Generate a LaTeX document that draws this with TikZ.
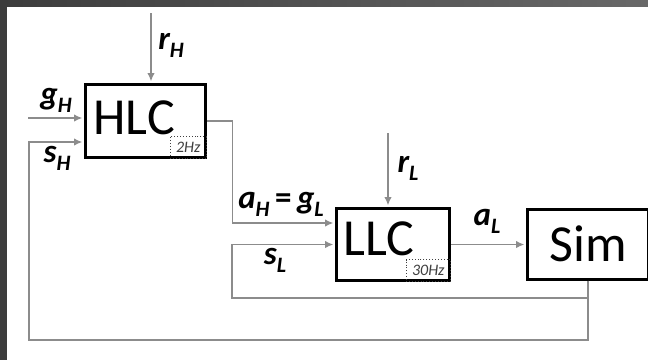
\documentclass[tikz,border=0pt]{standalone}
\usepackage{fontspec}
\setmainfont{Carlito}
\usetikzlibrary{calc,positioning,arrows.meta}
\definecolor{WireGray}{HTML}{8C8C8C}
\definecolor{FrameDark}{HTML}{3C3C3C}
\definecolor{FrameMid}{HTML}{686868}
\definecolor{RateGray}{HTML}{404040}
\newcommand{\sig}[2]{\textbf{\textit{#1\raisebox{-8pt}{\fontsize{22pt}{22pt}\selectfont#2}}}}

\begin{document}
\begin{tikzpicture}[x=1pt,y=-1pt,font=\fontsize{52pt}{54pt}\selectfont,
        blk/.style={draw=black,line width=3pt,inner ysep=0pt,minimum height=73pt,align=left},
        rate/.style={draw=RateGray,dotted,line width=0.9pt,inner sep=0pt,minimum height=22pt,anchor=south east,text=RateGray,font=\fontsize{16pt}{16pt}\selectfont\itshape},
        lbl/.style={inner sep=0pt,font=\fontsize{33pt}{35pt}\selectfont},
        wire/.style={line width=1.8pt,color=WireGray},
        ar/.style={wire,-{Latex[length=8.5pt,width=7.5pt]},shorten >=1.5pt}]
        \useasboundingbox (0,0) rectangle (648,360);
        \fill[white] (0,0) rectangle (648,360);
        \fill[FrameDark] (0,0) rectangle (7,360);
        \shade[left color=FrameDark,right color=FrameMid] (0,0) rectangle (648,6);
        % blocks
        \node[blk,inner xsep=8pt,text width=104pt,text depth=7pt] (hlc) at (145.5,121) {HLC};
        \node[blk,inner xsep=7pt,text width=99pt,text depth=12pt,minimum height=72pt] (llc) at (393,244.5) {LLC};
        \node[blk,inner xsep=0pt,minimum width=121pt,minimum height=70pt,align=center] (sim) at (588,244) {Sim};
        \node[rate,minimum width=36.5pt] (hlcrate) at (hlc.south east) {2Hz};
        \node[rate,minimum width=44.5pt] (llcrate) at (llc.south east) {30Hz};
        % inputs
        \coordinate (rhin) at (151,13);
        \coordinate (ghin) at (28,118);
        \coordinate (rlin) at (388,133);
        \coordinate (fbH) at (29,340);
        \coordinate (fbL) at (232,298);
        \draw[ar] (rhin) -- (rhin |- hlc.north);
        \draw[ar] (ghin) -- (ghin -| hlc.west);
        \draw[ar] (rlin) -- (rlin |- llc.north);
        \draw[ar] (hlc.east) -- ++(25.5,0) |- ($(llc.west)+(0,-21.5)$);
        \draw[ar] (llc.east) -- (llc.east -| sim.west);
        % feedback
        \draw[ar] (sim.south) |- (fbL) |- (llc.west);
        \draw[ar] (sim.south) |- (fbH) |- ($(hlc.west)+(0,21)$);
        % labels
        \node[lbl] (rhlbl) at (171,45) {\sig{r}{H}};
        \node[lbl] (ghlbl) at (56,100) {\sig{g}{H}};
        \node[lbl] (shlbl) at (57,158) {\sig{s}{H}};
        \node[lbl] (ahlbl) at (281,204) {\sig{a}{H}\,\textbf{=}\,\sig{g}{L}};
        \node[lbl] (sllbl) at (275,260) {\sig{s}{L}};
        \node[lbl] (rllbl) at (408,168) {\sig{r}{L}};
        \node[lbl] (allbl) at (487,221) {\sig{a}{L}};
      \end{tikzpicture}
\end{document}
